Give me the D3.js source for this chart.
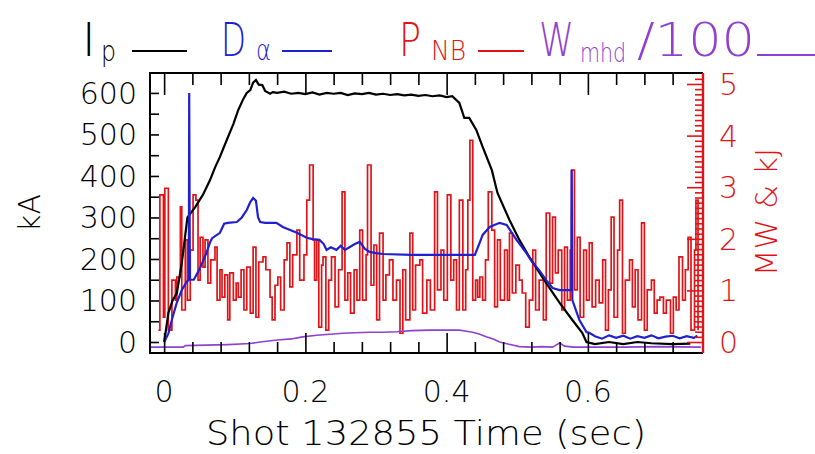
<!DOCTYPE html>
<html>
<head>
<meta charset="utf-8">
<script src="https://cdn.jsdelivr.net/npm/d3@7"></script>
<style>
  body { margin: 0; background: #fff; }
  text { font-family: "DejaVu Sans", sans-serif; font-weight: 200; }
</style>
</head>
<body>
<div id="chart"></div>
<script>
// Plasma current Ip (kA)
var ipTime = [0, 0.002, 0.006, 0.012, 0.018, 0.025, 0.033, 0.044, 0.055, 0.065, 0.072, 0.079, 0.09, 0.098, 0.105, 0.112, 0.117, 0.122, 0.126, 0.13, 0.134, 0.139, 0.143, 0.146, 0.15, 0.154, 0.16, 0.17, 0.18, 0.19, 0.2, 0.21, 0.22, 0.23, 0.24, 0.25, 0.26, 0.27, 0.28, 0.29, 0.3, 0.31, 0.32, 0.33, 0.34, 0.35, 0.36, 0.37, 0.38, 0.39, 0.4, 0.408, 0.418, 0.425, 0.432, 0.442, 0.451, 0.464, 0.472, 0.489, 0.503, 0.517, 0.541, 0.56, 0.578, 0.592, 0.598, 0.61, 0.63, 0.65, 0.67, 0.69, 0.72, 0.745];
var ipKA = [0, 22, 70, 100, 118, 190, 300, 325, 355, 390, 420, 446, 492, 525, 559, 585, 600, 607, 625, 631, 620, 619, 605, 602, 598, 602, 600, 603, 598, 600, 597, 601, 596, 600, 598, 600, 595, 599, 597, 600, 596, 598, 595, 597, 594, 596, 593, 595, 592, 594, 590, 592, 576, 540, 540, 511, 470, 414, 359, 294, 246, 205, 142, 94, 53, 22, 0, -5, 0, -5, 0, -3, -5, -4];

// D-alpha (arbitrary, left axis)
var daTime = [0, 0.006, 0.012, 0.018, 0.025, 0.032, 0.035, 0.0355, 0.0365, 0.042, 0.05, 0.06, 0.065, 0.068, 0.079, 0.085, 0.09, 0.103, 0.11, 0.117, 0.122, 0.126, 0.13, 0.133, 0.136, 0.143, 0.159, 0.168, 0.188, 0.202, 0.21, 0.22, 0.226, 0.23, 0.236, 0.244, 0.25, 0.256, 0.263, 0.27, 0.277, 0.284, 0.291, 0.3, 0.31, 0.35, 0.4, 0.44, 0.447, 0.451, 0.461, 0.475, 0.485, 0.499, 0.513, 0.521, 0.531, 0.541, 0.55, 0.56, 0.5765, 0.577, 0.578, 0.588, 0.598, 0.602, 0.61, 0.62, 0.63, 0.64, 0.65, 0.66, 0.67, 0.68, 0.69, 0.7, 0.71, 0.72, 0.73, 0.74, 0.75, 0.755];
var daVal = [0, 20, 60, 95, 125, 145, 150, 600, 150, 150, 175, 215, 240, 250, 263, 285, 287, 289, 300, 318, 337, 347, 340, 300, 289, 287, 287, 277, 263, 251, 248, 246, 236, 222, 228, 222, 232, 222, 229, 236, 241, 225, 217, 214, 212, 210, 210, 210, 240, 258, 277, 287, 282, 246, 214, 193, 173, 149, 130, 125, 125, 415, 101, 53, 24, 22, 14, 8, 16, 10, 15, 8, 14, 10, 16, 9, 13, 15, 9, 14, 10, 15];

// Neutral beam power P_NB (MW, right axis)
var pnbTime = [-0.008, -0.006, -0.001, 0.001, 0.006, 0.011, 0.016, 0.018, 0.023, 0.025, 0.030, 0.033, 0.037, 0.041, 0.045, 0.048, 0.051, 0.055, 0.058, 0.062, 0.066, 0.072, 0.075, 0.079, 0.082, 0.086, 0.090, 0.093, 0.098, 0.102, 0.105, 0.109, 0.113, 0.117, 0.122, 0.126, 0.130, 0.134, 0.140, 0.144, 0.150, 0.153, 0.157, 0.161, 0.165, 0.170, 0.174, 0.178, 0.182, 0.188, 0.192, 0.198, 0.202, 0.206, 0.211, 0.213, 0.216, 0.219, 0.223, 0.225, 0.229, 0.233, 0.237, 0.242, 0.247, 0.252, 0.256, 0.260, 0.264, 0.269, 0.273, 0.277, 0.281, 0.286, 0.288, 0.293, 0.297, 0.301, 0.305, 0.310, 0.314, 0.319, 0.324, 0.329, 0.334, 0.338, 0.342, 0.348, 0.352, 0.356, 0.362, 0.366, 0.372, 0.377, 0.383, 0.387, 0.392, 0.396, 0.401, 0.406, 0.410, 0.414, 0.418, 0.423, 0.427, 0.430, 0.433, 0.437, 0.441, 0.444, 0.447, 0.451, 0.455, 0.459, 0.464, 0.468, 0.472, 0.476, 0.482, 0.486, 0.489, 0.493, 0.498, 0.503, 0.507, 0.512, 0.517, 0.522, 0.526, 0.531, 0.537, 0.541, 0.546, 0.550, 0.554, 0.558, 0.563, 0.567, 0.571, 0.575, 0.577, 0.581, 0.585, 0.589, 0.594, 0.598, 0.602, 0.606, 0.611, 0.616, 0.621, 0.625, 0.629, 0.633, 0.637, 0.642, 0.645, 0.649, 0.653, 0.659, 0.663, 0.667, 0.671, 0.676, 0.680, 0.684, 0.690, 0.694, 0.698, 0.702, 0.707, 0.711, 0.717, 0.721, 0.725, 0.729, 0.734, 0.738, 0.742, 0.746, 0.751, 0.753, 0.756];
var pnbMW = [0.23, 2.85, 0.48, 2.98, 0.23, 1.2, 0.81, 1.26, 2.62, 0.62, 1.98, 0.81, 1.78, 2.85, 2.75, 1.2, 2.03, 1.45, 1.98, 1.14, 1.59, 1.84, 0.81, 1.4, 0.87, 1.3, 0.43, 1.34, 0.81, 1.14, 0.87, 1.4, 0.62, 1.45, 0.56, 1.84, 0.48, 1.55, 1.65, 1.4, 0.87, 0.43, 1.1, 1.26, 0.62, 1.59, 1.92, 1.07, 1.69, 2.17, 1.2, 1.69, 2.75, 3.43, 1.98, 1.2, 1.98, 0.29, 1.49, 1.65, 0.23, 1.2, 1.65, 0.68, 1.4, 2.91, 0.81, 1.34, 0.56, 1.4, 0.81, 2.17, 0.81, 1.69, 3.43, 1.1, 1.88, 0.43, 2.11, 0.81, 1.3, 1.59, 0.81, 1.2, 0.17, 1.4, 0.43, 2.11, 0.62, 1.49, 1.59, 0.56, 1.2, 0.62, 2.91, 1.01, 1.78, 0.81, 2.85, 1.2, 1.59, 0.62, 2.75, 0.62, 1.4, 2.75, 3.91, 0.81, 1.2, 0.87, 1.26, 0.81, 1.59, 2.91, 2.17, 0.68, 1.98, 0.81, 1.78, 0.81, 2.11, 0.95, 1.49, 1.2, 0.95, 0.29, 0.81, 1.78, 0.62, 1.2, 0.43, 2.5, 1.14, 2.42, 1.34, 1.78, 0.62, 1.84, 0.81, 1.78, 3.33, 1.01, 2.03, 0.48, 1.78, 0.81, 1.92, 0.68, 1.2, 0.76, 1.59, 0.23, 1.01, 2.42, 0.48, 1.78, 2.75, 0.17, 1.2, 1.59, 0.68, 1.4, 0.43, 2.31, 0.23, 1.01, 1.2, 0.56, 0.81, 0.87, 0.56, 0.81, 0.17, 0.87, 0.62, 1.65, 0.81, 1.4, 2.03, 0.23, 1.78, 2.75, 0.23];

// Stored energy W_mhd/100 (right axis)
var wTime = [-0.02, 0.027, 0.03, 0.06, 0.09, 0.122, 0.136, 0.16, 0.18, 0.196, 0.216, 0.235, 0.253, 0.27, 0.291, 0.31, 0.33, 0.35, 0.376, 0.4, 0.418, 0.428, 0.437, 0.447, 0.456, 0.466, 0.475, 0.49, 0.503, 0.52, 0.535, 0.55, 0.556, 0.56, 0.567, 0.58, 0.6, 0.65, 0.7, 0.76];
var wVal = [-0.1, -0.1, -0.07, -0.06, -0.05, -0.03, 0.0, 0.04, 0.06, 0.1, 0.13, 0.15, 0.17, 0.18, 0.19, 0.19, 0.2, 0.22, 0.23, 0.23, 0.23, 0.21, 0.19, 0.15, 0.1, 0.06, 0.0, -0.05, -0.09, -0.1, -0.09, -0.1, -0.05, -0.02, -0.08, -0.1, -0.1, -0.1, -0.09, -0.1];

// Tick values and labels
var xLabels = [0, 0.2, 0.4, 0.6];
var xMinor = [0.04, 0.08, 0.12, 0.16, 0.24, 0.28, 0.32, 0.36, 0.44, 0.48, 0.52, 0.56, 0.64, 0.68, 0.72];
var kaLabels = [0, 100, 200, 300, 400, 500, 600];
var kaMinor = [50, 150, 250, 350, 450, 550];
var mwLabels = [0, 1, 2, 3, 4, 5];
var mwMinor = [0.1, 0.2, 0.3, 0.4, 0.5, 0.6, 0.7, 0.8, 0.9, 1.1, 1.2, 1.3, 1.4, 1.5, 1.6, 1.7, 1.8, 1.9, 2.1, 2.2, 2.3, 2.4, 2.5, 2.6, 2.7, 2.8, 2.9, 3.1, 3.2, 3.3, 3.4, 3.5, 3.6, 3.7, 3.8, 3.9, 4.1, 4.2, 4.3, 4.4, 4.5, 4.6, 4.7, 4.8, 4.9, 5.1];

var svgWidth = 815;
var svgHeight = 454;
var plot = { left: 150, right: 703, top: 73, bottom: 353 };

var black = "#000", blue = "#2020d0", red = "#e01418", purple = "#9040d0";

var svg = d3.select("#chart")
  .append("svg")
  .attr("width", svgWidth)
  .attr("height", svgHeight);

var xScale = d3.scaleLinear().domain([-0.02, 0.763]).range([plot.left, plot.right]);
var yLeft = d3.scaleLinear().domain([-26.5, 648]).range([plot.bottom, plot.top]);
var yRight = d3.scaleLinear().domain([-0.213, 5.213]).range([plot.bottom, plot.top]);

svg.append("clipPath").attr("id", "clip")
  .append("rect")
  .attr("x", plot.left).attr("y", plot.top)
  .attr("width", plot.right - plot.left).attr("height", plot.bottom - plot.top);

var lines = svg.append("g").attr("clip-path", "url(#clip)");

function toPoints(ts, vs) {
  return d3.zip(ts, vs).map(function(p) { return { t: p[0], v: p[1] }; });
}

var lineLeft = d3.line().x(d => xScale(d.t)).y(d => yLeft(d.v));
var lineRight = d3.line().x(d => xScale(d.t)).y(d => yRight(d.v));
var lineStep = d3.line().x(d => xScale(d.t)).y(d => yRight(d.v)).curve(d3.curveStepAfter);

// P_NB first, others on top
lines.append("path")
  .datum(toPoints(pnbTime, pnbMW))
  .attr("d", lineStep)
  .attr("fill", "none").attr("stroke", red).attr("stroke-width", 1.7);

lines.append("path")
  .datum(toPoints(wTime, wVal))
  .attr("d", lineRight)
  .attr("fill", "none").attr("stroke", purple).attr("stroke-width", 1.6);

lines.append("path")
  .datum(toPoints(ipTime, ipKA))
  .attr("d", lineLeft)
  .attr("fill", "none").attr("stroke", black).attr("stroke-width", 2.2);

lines.append("path")
  .datum(toPoints(daTime, daVal))
  .attr("d", lineLeft)
  .attr("fill", "none").attr("stroke", blue).attr("stroke-width", 2.2);

// axes (ticks drawn inward)
function styleAxis(g, color) {
  g.select(".domain").remove();
  g.selectAll(".tick line").attr("stroke", color).attr("stroke-width", 1.6);
}

svg.append("g").attr("transform", `translate(0, ${plot.bottom})`)
  .call(d3.axisBottom(xScale).tickValues(xLabels).tickSize(-20).tickFormat(""))
  .call(styleAxis, black);
svg.append("g").attr("transform", `translate(0, ${plot.bottom})`)
  .call(d3.axisBottom(xScale).tickValues(xMinor).tickSize(-11).tickFormat(""))
  .call(styleAxis, black);
svg.append("g").attr("transform", `translate(0, ${plot.top})`)
  .call(d3.axisTop(xScale).tickValues(xLabels).tickSize(-22).tickFormat(""))
  .call(styleAxis, black);
svg.append("g").attr("transform", `translate(0, ${plot.top})`)
  .call(d3.axisTop(xScale).tickValues(xMinor).tickSize(-12).tickFormat(""))
  .call(styleAxis, black);

svg.append("g").attr("transform", `translate(${plot.left}, 0)`)
  .call(d3.axisLeft(yLeft).tickValues(kaLabels.concat(kaMinor)).tickSize(-9).tickFormat(""))
  .call(styleAxis, black);

svg.append("g").attr("transform", `translate(${plot.right}, 0)`)
  .call(d3.axisRight(yRight).tickValues(mwLabels).tickSize(-16).tickFormat(""))
  .call(styleAxis, red);
svg.append("g").attr("transform", `translate(${plot.right}, 0)`)
  .call(d3.axisRight(yRight).tickValues(mwMinor).tickSize(-8).tickFormat(""))
  .call(styleAxis, red);

// frame
svg.append("path")
  .attr("d", `M${plot.right},${plot.top}H${plot.left}V${plot.bottom}H${plot.right}`)
  .attr("fill", "none").attr("stroke", black).attr("stroke-width", 2);
svg.append("line")
  .attr("x1", plot.right).attr("x2", plot.right)
  .attr("y1", plot.top).attr("y2", plot.bottom)
  .attr("stroke", red).attr("stroke-width", 2.4);

// tick labels
svg.selectAll(".xlab").data(xLabels).enter().append("text")
  .attr("x", d => xScale(d)).attr("y", 402)
  .attr("text-anchor", "middle").attr("font-size", 30).attr("fill", black)
  .text(d => d === 0 ? "0" : d3.format(".1f")(d));

svg.selectAll(".ylab").data(kaLabels).enter().append("text")
  .attr("x", 137).attr("y", d => yLeft(d) + 11)
  .attr("text-anchor", "end").attr("font-size", 30).attr("fill", black)
  .text(d => d);

svg.selectAll(".rlab").data(mwLabels).enter().append("text")
  .attr("x", 719).attr("y", d => yRight(d) + 11)
  .attr("font-size", 30).attr("fill", red)
  .text(d => d);

// axis titles
svg.append("text")
  .attr("transform", "translate(40, 213) rotate(-90)")
  .attr("text-anchor", "middle").attr("font-size", 30).attr("fill", black)
  .text("kA");

svg.append("text")
  .attr("transform", "translate(777, 212) rotate(-90)")
  .attr("text-anchor", "middle").attr("font-size", 31).attr("fill", red)
  .text("MW & kJ");

svg.append("text")
  .attr("x", 426).attr("y", 445)
  .attr("text-anchor", "middle").attr("font-size", 34).attr("fill", black)
  .attr("textLength", 440).attr("lengthAdjust", "spacingAndGlyphs")
  .text("Shot 132855 Time (sec)");

// legend across the top
var legend = svg.append("g");
function legendText(str, x, y, size, color, len) {
  var t = legend.append("text")
    .attr("x", x).attr("y", y).attr("font-size", size).attr("fill", color)
    .text(str);
  if (len) t.attr("textLength", len).attr("lengthAdjust", "spacingAndGlyphs");
}
function legendLine(x1, x2, y, color) {
  legend.append("line").attr("x1", x1).attr("x2", x2).attr("y1", y).attr("y2", y)
    .attr("stroke", color).attr("stroke-width", 2);
}
legendText("I", 82, 56, 46, black);
legendText("p", 101, 61, 28, black, 15);
legendLine(132, 187, 51, black);
legendText("D", 221, 56, 46, blue, 25);
legendText("\u03b1", 256, 60, 28, blue, 15);
legendLine(282, 332, 51, blue);
legendText("P", 399, 56, 46, red, 22);
legendText("NB", 431, 60, 26, red, 35);
legendLine(478, 524, 51, red);
legendText("W", 539, 56, 46, purple, 35);
legendText("mhd", 580, 62, 26, purple, 46);
legendText("/100", 637, 56, 46, purple, 118);
legendLine(757, 815, 55, purple);
</script>
</body>
</html>
